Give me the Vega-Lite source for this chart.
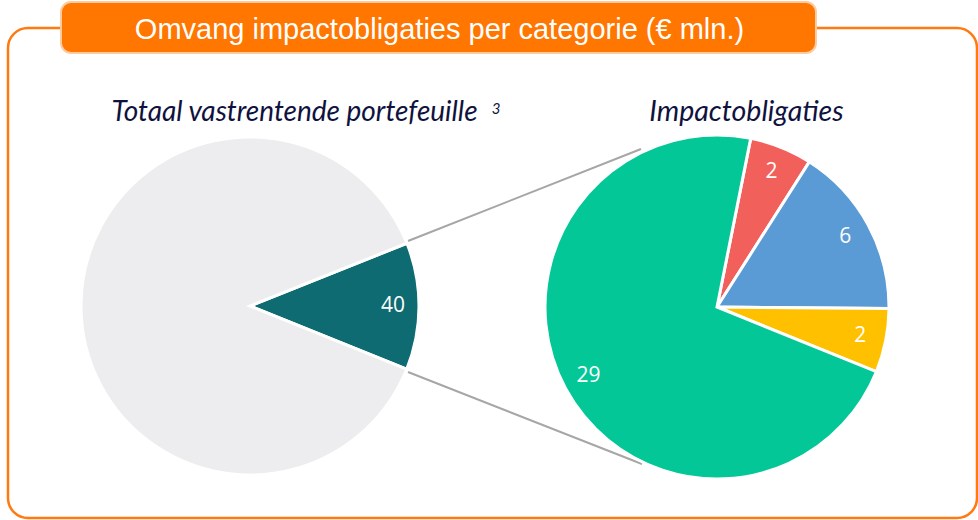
{
  "$schema": "https://vega.github.io/schema/vega-lite/v6.json",
  "width": 978,
  "height": 520,
  "autosize": "none",
  "padding": 0,
  "background": "white",
  "config": {"view": {"stroke": null}},
  "datasets": {
    "totaal": [
      {"categorie": "Impactobligaties", "nr": 1, "waarde": 40},
      {"categorie": "Overige vastrentende waarden", "nr": 2, "waarde": 289}
    ],
    "impact": [
      {"categorie": "Categorie A", "nr": 1, "waarde": 2.35},
      {"categorie": "Categorie B", "nr": 2, "waarde": 6.45},
      {"categorie": "Categorie C", "nr": 3, "waarde": 2.4},
      {"categorie": "Categorie D", "nr": 4, "waarde": 28.8}
    ],
    "leeg": [{}]
  },
  "layer": [
    {
      "data": {"name": "leeg"},
      "mark": {"type": "rect", "fill": null, "filled": false, "stroke": "#FF7A10", "strokeWidth": 2.5, "cornerRadius": 20},
      "encoding": {
        "x": {"datum": 8, "type": "quantitative", "scale": {"domain": [0, 978], "nice": false, "zero": false}, "axis": null},
        "x2": {"datum": 977},
        "y": {"datum": 28, "type": "quantitative", "scale": {"domain": [0, 520], "nice": false, "zero": false, "reverse": true}, "axis": null},
        "y2": {"datum": 518}
      }
    },
    {
      "data": {"name": "leeg"},
      "mark": {"type": "rect", "fill": "#FF7600", "stroke": "#FCCCA0", "strokeWidth": 2, "cornerRadius": 10},
      "encoding": {
        "x": {"datum": 61, "type": "quantitative", "scale": {"domain": [0, 978], "nice": false, "zero": false}, "axis": null},
        "x2": {"datum": 816},
        "y": {"datum": 2, "type": "quantitative", "scale": {"domain": [0, 520], "nice": false, "zero": false, "reverse": true}, "axis": null},
        "y2": {"datum": 53}
      }
    },
    {
      "data": {"name": "leeg"},
      "mark": {"type": "text", "font": "Liberation Sans", "fontSize": 29, "color": "white", "align": "center", "baseline": "alphabetic"},
      "encoding": {
        "x": {"datum": 439.5, "type": "quantitative", "scale": {"domain": [0, 978], "nice": false, "zero": false}, "axis": null},
        "y": {"datum": 38.5, "type": "quantitative", "scale": {"domain": [0, 520], "nice": false, "zero": false, "reverse": true}, "axis": null},
        "text": {"value": "Omvang impactobligaties per categorie (€ mln.)"}
      }
    },
    {
      "data": {"name": "leeg"},
      "mark": {"type": "text", "font": "Lato", "fontStyle": "italic", "fontSize": 28, "color": "#10123E", "align": "center", "baseline": "alphabetic"},
      "encoding": {
        "x": {"datum": 294.5, "type": "quantitative", "scale": {"domain": [0, 978], "nice": false, "zero": false}, "axis": null},
        "y": {"datum": 121, "type": "quantitative", "scale": {"domain": [0, 520], "nice": false, "zero": false, "reverse": true}, "axis": null},
        "text": {"value": "Totaal vastrentende portefeuille"}
      }
    },
    {
      "data": {"name": "leeg"},
      "mark": {"type": "text", "font": "Lato", "fontStyle": "italic", "fontSize": 15, "color": "#10123E", "align": "center", "baseline": "alphabetic"},
      "encoding": {
        "x": {"datum": 496, "type": "quantitative", "scale": {"domain": [0, 978], "nice": false, "zero": false}, "axis": null},
        "y": {"datum": 114, "type": "quantitative", "scale": {"domain": [0, 520], "nice": false, "zero": false, "reverse": true}, "axis": null},
        "text": {"value": "3"}
      }
    },
    {
      "data": {"name": "leeg"},
      "mark": {"type": "text", "font": "Lato", "fontStyle": "italic", "fontSize": 28.5, "color": "#10123E", "align": "center", "baseline": "alphabetic"},
      "encoding": {
        "x": {"datum": 746.5, "type": "quantitative", "scale": {"domain": [0, 978], "nice": false, "zero": false}, "axis": null},
        "y": {"datum": 121, "type": "quantitative", "scale": {"domain": [0, 520], "nice": false, "zero": false, "reverse": true}, "axis": null},
        "text": {"value": "Impactobligaties"}
      }
    },
    {
      "data": {"name": "leeg"},
      "mark": {"type": "rule", "color": "#A6A6A6", "strokeWidth": 2},
      "encoding": {
        "x": {"datum": 408, "type": "quantitative", "scale": {"domain": [0, 978], "nice": false, "zero": false}, "axis": null},
        "x2": {"datum": 641},
        "y": {"datum": 241, "type": "quantitative", "scale": {"domain": [0, 520], "nice": false, "zero": false, "reverse": true}, "axis": null},
        "y2": {"datum": 149}
      }
    },
    {
      "data": {"name": "leeg"},
      "mark": {"type": "rule", "color": "#A6A6A6", "strokeWidth": 2},
      "encoding": {
        "x": {"datum": 408, "type": "quantitative", "scale": {"domain": [0, 978], "nice": false, "zero": false}, "axis": null},
        "x2": {"datum": 642},
        "y": {"datum": 372, "type": "quantitative", "scale": {"domain": [0, 520], "nice": false, "zero": false, "reverse": true}, "axis": null},
        "y2": {"datum": 464}
      }
    },
    {
      "data": {"name": "totaal"},
      "encoding": {
        "x": {"datum": 250, "type": "quantitative", "scale": {"domain": [0, 978], "nice": false, "zero": false}, "axis": null},
        "y": {"datum": 306, "type": "quantitative", "scale": {"domain": [0, 520], "nice": false, "zero": false, "reverse": true}, "axis": null},
        "theta": {"field": "waarde", "type": "quantitative", "stack": true, "scale": {"range": [1.1903, 7.4735]}},
        "order": {"field": "nr", "type": "quantitative"},
        "color": {"field": "categorie", "type": "nominal", "scale": {"domain": ["Impactobligaties", "Overige vastrentende waarden"], "range": ["#0D6B71", "#EDEDEF"]}, "legend": null}
      },
      "layer": [
        {"mark": {"type": "arc", "outerRadius": 169, "stroke": "white", "strokeWidth": 3}},
        {
          "mark": {"type": "text", "radius": 143, "font": "Open Sans", "fontSize": 21, "align": "center", "baseline": "middle"},
          "encoding": {
            "text": {"condition": {"test": "datum.nr === 1", "field": "waarde", "type": "quantitative", "format": ".0f"}, "value": ""},
            "color": {"value": "white"}
          }
        }
      ]
    },
    {
      "data": {"name": "impact"},
      "encoding": {
        "x": {"datum": 717, "type": "quantitative", "scale": {"domain": [0, 978], "nice": false, "zero": false}, "axis": null},
        "y": {"datum": 307, "type": "quantitative", "scale": {"domain": [0, 520], "nice": false, "zero": false, "reverse": true}, "axis": null},
        "theta": {"field": "waarde", "type": "quantitative", "stack": true, "scale": {"range": [0.1972, 6.4804]}},
        "order": {"field": "nr", "type": "quantitative"},
        "color": {"field": "categorie", "type": "nominal", "scale": {"domain": ["Categorie A", "Categorie B", "Categorie C", "Categorie D"], "range": ["#F2605C", "#5B9BD5", "#FFC000", "#04C797"]}, "legend": null}
      },
      "layer": [
        {"mark": {"type": "arc", "outerRadius": 172, "stroke": "white", "strokeWidth": 3}},
        {
          "mark": {"type": "text", "radius": 146, "font": "Open Sans", "fontSize": 21, "align": "center", "baseline": "middle"},
          "encoding": {
            "text": {"field": "waarde", "type": "quantitative", "format": ".0f"},
            "color": {"value": "white"}
          }
        }
      ]
    }
  ],
  "resolve": {"scale": {"theta": "independent", "color": "independent"}}
}
